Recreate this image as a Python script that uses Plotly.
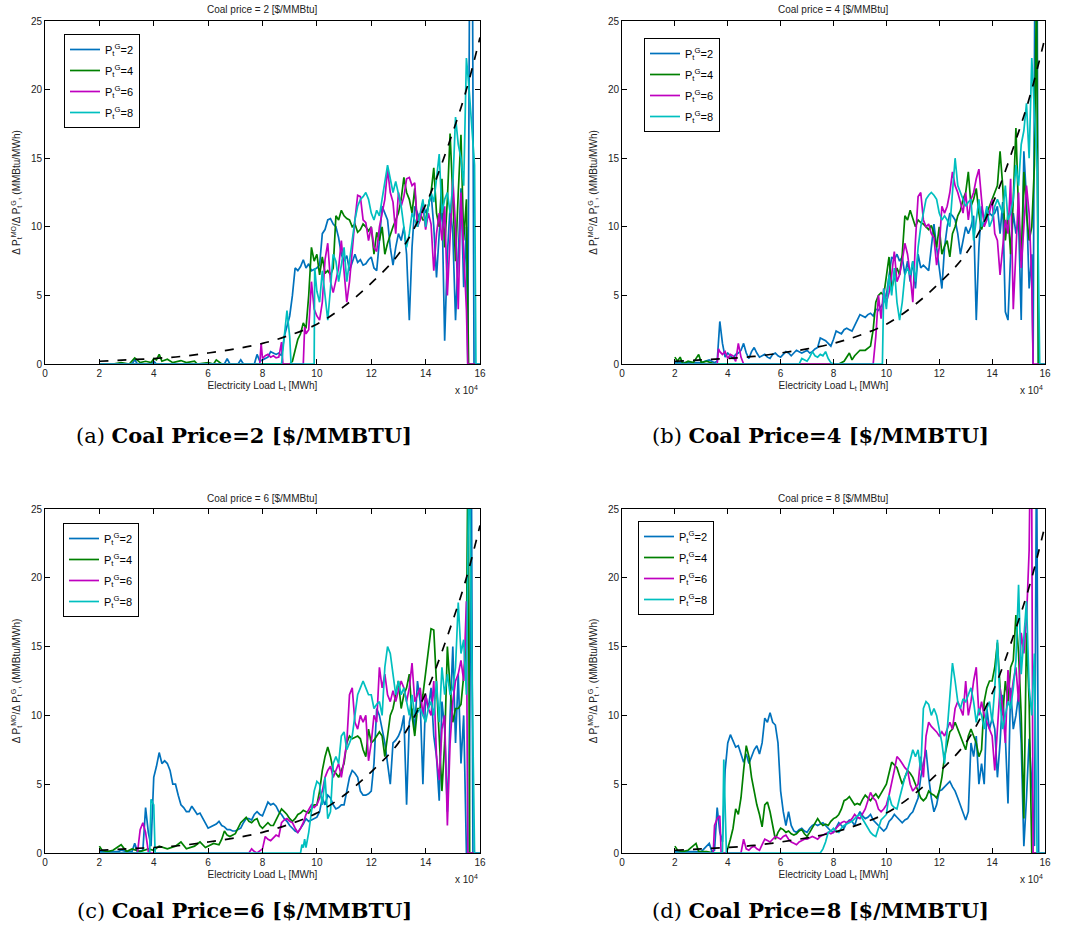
import plotly.graph_objects as go

# ---------------- data (x in units of 10^4 MWh) ----------------
dash_x = [2, 3, 4, 5, 6, 7, 8, 9, 10, 11, 12, 13, 14, 15, 15.5, 16]
dash_y = [0.2, 0.3, 0.4, 0.55, 0.8, 1.1, 1.5, 2.1, 2.9, 4.2, 5.9, 8.0, 11.6, 16.9, 20.0, 23.8]

# Panel (a): coal price = 2
a_p2 = [(2.0,0),(3.2,0),(3.3,0.3),(3.4,0),(3.9,0),(4.0,0.2),(4.1,0),(6.6,0),(6.7,0.4),(6.8,0),(7.1,0),(7.2,0.3),(7.3,0),
        (7.7,0),(7.8,0.7),(7.9,0.2),(8.0,0.3),(8.2,0.5),(8.3,0.9),(8.5,0.7),(8.6,0.8),(8.7,0.6),(8.8,2.0),(9.0,3.5),(9.1,5.0),
        (9.2,7.0),(9.3,6.8),(9.4,7.1),(9.5,7.6),(9.6,7.0),(9.7,7.3),(9.8,6.8),(10.0,7.0),(10.1,7.2),(10.2,9.5),(10.3,9.8),
        (10.4,10.5),(10.5,10.6),(10.6,10.2),(10.7,10.0),(10.8,9.2),(10.9,8.0),(11.0,7.5),(11.1,7.9),(11.2,6.8),(11.3,7.5),
        (11.4,8.0),(11.5,7.4),(11.6,7.6),(11.7,7.2),(11.8,7.3),(11.9,7.6),(12.0,7.8),(12.1,7.0),(12.2,6.8),(12.3,9.0),
        (12.4,11.5),(12.5,11.0),(12.6,10.5),(12.7,8.5),(12.8,7.2),(12.9,8.5),(13.0,9.5),(13.1,9.0),(13.2,10.0),(13.3,8.0),
        (13.4,3.2),(13.5,8.5),(13.6,11.5),(13.7,11.0),(13.8,10.5),(13.9,11.8),(14.0,11.0),(14.1,11.5),(14.2,12.5),(14.3,10.0),
        (14.4,6.3),(14.5,9.5),(14.6,11.8),(14.7,1.7),(14.8,8.0),(14.9,11.5),(15.0,9.5),(15.1,3.2),(15.2,8.0),(15.3,12.8),
        (15.4,5.6),(15.5,10.0),(15.55,0),(15.62,30),(15.72,30),(15.78,0),(16.0,0)]
a_p4 = [(2.0,0),(2.5,0),(2.8,0.1),(3.1,0),(3.3,0.45),(3.5,0.1),(3.7,0.2),(3.9,0.1),(4.0,0.4),(4.1,0.3),(4.2,0.7),(4.3,0.2),
        (4.5,0.35),(4.7,0.1),(5.0,0.25),(5.2,0.1),(5.5,0.2),(5.6,0),(6.0,0.1),(6.2,0),(6.3,0.3),(6.5,0),(9.0,0),(9.1,0.2),
        (9.2,1.0),(9.3,1.8),(9.4,2.2),(9.5,3.0),(9.6,2.6),(9.7,5.0),(9.8,8.5),(9.9,7.5),(10.0,8.0),(10.1,6.5),(10.2,7.8),
        (10.3,6.6),(10.4,6.8),(10.5,6.5),(10.6,7.0),(10.7,10.8),(10.8,10.5),(10.9,11.2),(11.0,10.8),(11.1,10.6),(11.2,10.5),
        (11.3,10.0),(11.4,10.2),(11.5,9.6),(11.6,9.8),(11.7,10.2),(11.8,10.0),(11.9,9.7),(12.0,10.0),(12.1,8.0),(12.2,9.6),
        (12.3,9.0),(12.4,10.0),(12.5,8.0),(12.6,8.8),(12.7,9.5),(12.8,10.0),(12.9,10.5),(13.0,11.0),(13.1,12.0),(13.2,13.6),
        (13.3,12.5),(13.4,12.0),(13.5,11.0),(13.6,12.8),(13.7,10.0),(13.8,11.0),(13.9,10.5),(14.0,10.5),(14.1,11.5),
        (14.2,12.5),(14.3,14.3),(14.4,11.0),(14.5,10.0),(14.6,13.5),(14.7,8.5),(14.8,12.0),(14.9,16.8),(15.0,12.0),
        (15.1,7.5),(15.2,12.5),(15.3,16.7),(15.4,9.0),(15.5,12.0),(15.58,0),(16.0,0)]
a_p6 = [(2.0,0),(7.9,0),(7.95,1.5),(8.0,0.4),(8.1,0.6),(8.2,0.7),(8.3,0.5),(8.4,0.6),(8.5,0.45),(8.6,0.5),(8.7,1.6),
        (8.75,0),(9.5,0),(9.55,2.7),(9.6,2.2),(9.7,2.5),(9.8,6.0),(9.9,4.0),(10.0,3.5),(10.1,3.2),(10.2,4.5),(10.3,7.6),
        (10.4,8.8),(10.5,6.0),(10.6,5.2),(10.7,6.0),(10.8,7.0),(10.9,9.0),(11.0,7.0),(11.1,4.5),(11.2,6.0),(11.3,8.5),
        (11.4,10.5),(11.5,12.3),(11.6,12.2),(11.7,10.5),(11.8,10.3),(11.9,9.0),(12.0,10.0),(12.1,8.5),(12.2,8.2),
        (12.3,10.0),(12.4,11.0),(12.5,12.0),(12.6,14.2),(12.7,12.5),(12.8,11.8),(12.9,9.5),(13.0,12.5),(13.1,11.5),
        (13.2,12.2),(13.3,13.5),(13.4,13.6),(13.5,13.0),(13.6,13.2),(13.7,10.0),(13.8,10.5),(13.9,11.5),(14.0,9.8),
        (14.1,11.0),(14.2,10.2),(14.3,6.8),(14.4,9.5),(14.5,11.0),(14.6,9.0),(14.7,11.5),(14.8,5.0),(14.9,9.5),(15.0,13.5),
        (15.1,10.0),(15.2,4.0),(15.3,12.5),(15.4,8.5),(15.5,4.0),(15.55,0),(16.0,0)]
a_p8 = [(2.0,0),(8.7,0),(8.8,2.0),(8.9,3.9),(9.0,2.0),(9.05,0),(9.9,0),(9.92,7.0),(10.0,5.3),(10.1,4.5),(10.2,6.8),
        (10.3,5.2),(10.4,3.2),(10.5,5.5),(10.6,8.0),(10.7,7.5),(10.8,6.0),(10.9,7.2),(11.0,8.5),(11.1,6.0),(11.2,7.5),
        (11.3,9.0),(11.4,10.5),(11.5,11.5),(11.6,12.0),(11.7,12.2),(11.8,12.5),(11.9,12.0),(12.0,11.0),(12.1,10.5),
        (12.2,11.2),(12.3,10.8),(12.4,12.0),(12.5,13.0),(12.6,14.5),(12.7,13.5),(12.8,12.5),(12.9,13.3),(13.0,12.5),
        (13.1,11.5),(13.2,10.0),(13.3,8.5),(13.4,9.5),(13.5,11.0),(13.6,10.5),(13.7,10.0),(13.8,11.0),(13.9,12.0),
        (14.0,10.0),(14.1,11.5),(14.2,12.5),(14.3,11.8),(14.4,13.5),(14.5,15.3),(14.6,11.0),(14.7,12.0),(14.8,12.5),
        (14.9,11.0),(15.0,13.0),(15.1,18.0),(15.2,16.0),(15.3,15.0),(15.4,13.0),(15.5,22.3),(15.6,20.0),(15.7,17.0),
        (15.8,14.5),(15.85,0),(16.0,0)]

# Panel (b): coal price = 4
b_p2 = [(2.0,0.1),(3.0,0.1),(3.3,0.3),(3.5,0.1),(3.6,0.2),(3.7,3.1),(3.8,1.5),(3.9,0.5),(4.0,0.8),(4.1,0.6),(4.2,0.4),
        (4.3,0.7),(4.4,0.8),(4.5,1.0),(4.6,1.5),(4.7,0.8),(4.8,0.4),(4.9,0.9),(5.0,1.2),(5.1,0.8),(5.2,0.5),(5.3,0.6),
        (5.4,0.7),(5.5,0.5),(5.6,0.4),(5.7,0.7),(5.8,0.8),(5.9,0.6),(6.0,0.5),(6.1,0.7),(6.2,0.9),(6.3,0.8),(6.4,0.6),
        (6.5,0.8),(6.6,1.0),(6.7,0.9),(6.8,0.8),(6.9,0.9),(7.0,1.0),(7.1,0.8),(7.2,0.9),(7.3,1.1),(7.4,1.2),(7.5,1.9),
        (7.6,1.8),(7.7,1.7),(7.8,1.5),(7.9,1.3),(8.0,1.8),(8.1,2.4),(8.2,2.3),(8.3,2.2),(8.4,2.5),(8.5,2.6),(8.6,2.5),
        (8.7,2.4),(8.8,2.8),(8.9,3.2),(9.0,3.6),(9.1,3.5),(9.2,3.4),(9.3,3.6),(9.4,3.7),(9.5,3.5),(9.6,4.0),(9.7,3.9),
        (9.8,4.2),(9.9,4.5),(10.0,5.0),(10.1,6.5),(10.2,7.8),(10.3,7.6),(10.4,8.0),(10.5,7.5),(10.6,7.8),(10.7,6.5),
        (10.8,7.5),(10.9,6.0),(11.0,7.5),(11.1,5.5),(11.2,8.0),(11.3,7.0),(11.4,7.2),(11.5,7.0),(11.6,6.8),(11.7,8.5),
        (11.8,10.2),(11.9,8.5),(12.0,7.0),(12.1,5.5),(12.2,8.5),(12.3,10.0),(12.4,11.0),(12.5,10.8),(12.6,10.5),(12.7,9.5),
        (12.8,8.0),(12.9,9.0),(13.0,10.0),(13.1,9.5),(13.2,10.0),(13.3,10.8),(13.4,3.2),(13.5,8.5),(13.6,11.5),(13.7,10.5),
        (13.8,11.2),(13.9,11.0),(14.0,10.8),(14.1,11.0),(14.2,11.5),(14.3,9.5),(14.4,11.8),(14.5,3.8),(14.6,3.2),
        (14.7,8.0),(14.8,11.0),(14.9,9.5),(15.0,10.5),(15.1,3.2),(15.2,15.5),(15.3,12.0),(15.4,5.5),(15.5,8.0),
        (15.55,0),(15.62,30),(15.7,30),(15.75,0),(16.0,0)]
b_p4 = [(2.0,0.5),(2.1,0.2),(2.2,0.5),(2.3,0),(2.5,0.2),(2.7,0.1),(2.9,0.7),(3.0,0.1),(3.2,0.2),(3.5,0),(8.2,0),(8.4,0.2),
        (8.6,0.8),(8.7,0.3),(8.8,0.6),(9.0,1.0),(9.2,1.0),(9.4,1.3),(9.5,2.5),(9.6,4.5),(9.7,5.0),(9.8,5.2),(9.9,5.0),
        (10.0,6.5),(10.1,7.8),(10.2,5.5),(10.3,6.2),(10.4,7.0),(10.5,6.5),(10.6,8.0),(10.7,10.8),(10.8,10.5),(10.9,11.2),
        (11.0,10.5),(11.1,10.0),(11.2,10.5),(11.3,10.3),(11.4,10.2),(11.5,10.0),(11.6,9.8),(11.7,10.1),(11.8,9.5),
        (11.9,8.5),(12.0,10.0),(12.1,8.0),(12.2,8.6),(12.3,9.0),(12.4,7.8),(12.5,9.5),(12.6,10.0),(12.7,10.8),(12.8,11.2),
        (12.9,12.0),(13.0,12.5),(13.1,14.0),(13.2,11.5),(13.3,12.0),(13.4,12.8),(13.5,11.0),(13.6,9.8),(13.7,10.5),
        (13.8,11.0),(13.9,11.5),(14.0,12.0),(14.1,12.5),(14.2,13.0),(14.3,15.5),(14.4,13.0),(14.5,9.0),(14.6,11.0),
        (14.7,8.0),(14.8,12.0),(14.9,17.2),(15.0,11.0),(15.1,7.5),(15.2,14.0),(15.3,11.0),(15.4,9.0),(15.5,10.0),
        (15.6,14.5),(15.68,28),(15.75,0),(16.0,0)]
b_p6 = [(2.0,0),(3.6,0),(3.65,1.1),(3.7,0.9),(3.8,0.7),(3.9,0.9),(4.0,0.4),(4.1,0.7),(4.2,0.6),(4.3,0.2),(4.4,1.5),
        (4.5,0.5),(4.6,0),(9.5,0),(9.6,2.0),(9.7,5.0),(9.8,3.3),(9.9,5.5),(10.0,4.5),(10.1,5.2),(10.2,6.5),(10.3,8.2),
        (10.4,6.0),(10.5,6.5),(10.6,7.5),(10.7,8.8),(10.8,8.0),(10.9,6.5),(11.0,4.5),(11.1,9.0),(11.2,12.2),(11.3,12.5),
        (11.4,10.5),(11.5,10.0),(11.6,10.2),(11.7,9.5),(11.8,9.2),(11.9,7.2),(12.0,8.5),(12.1,11.5),(12.2,11.0),
        (12.3,11.5),(12.4,12.5),(12.5,14.0),(12.6,13.0),(12.7,12.5),(12.8,11.8),(12.9,11.0),(13.0,12.5),(13.1,10.5),
        (13.2,12.0),(13.3,12.5),(13.4,13.5),(13.5,14.2),(13.6,12.0),(13.7,10.0),(13.8,10.5),(13.9,11.0),(14.0,12.0),
        (14.1,9.5),(14.2,9.0),(14.3,6.5),(14.4,8.5),(14.5,10.5),(14.6,9.5),(14.7,13.5),(14.8,4.0),(14.9,8.0),(15.0,12.5),
        (15.1,7.0),(15.2,10.0),(15.3,13.0),(15.4,11.0),(15.5,6.0),(15.55,0),(16.0,0)]
b_p8 = [(2.0,0),(6.7,0),(6.8,0.4),(6.9,0.3),(7.0,0.2),(7.1,0.5),(7.2,0.9),(7.3,0.6),(7.4,0.5),(7.5,0.7),(7.6,0.6),
        (7.7,0.9),(7.8,0.4),(7.9,0.1),(8.0,0),(9.85,0),(9.9,5.5),(10.0,4.0),(10.1,6.5),(10.2,5.0),(10.3,7.0),(10.4,4.5),
        (10.5,3.2),(10.6,4.5),(10.7,6.5),(10.8,7.0),(10.9,6.5),(11.0,7.5),(11.1,6.0),(11.2,8.5),(11.3,10.0),(11.4,11.0),
        (11.5,12.0),(11.6,12.3),(11.7,12.5),(11.8,12.3),(11.9,12.0),(12.0,11.0),(12.1,10.5),(12.2,10.8),(12.3,10.5),
        (12.4,10.0),(12.5,12.5),(12.6,15.0),(12.7,13.0),(12.8,12.5),(12.9,12.0),(13.0,11.5),(13.1,11.8),(13.2,12.0),
        (13.3,9.0),(13.4,10.5),(13.5,12.0),(13.6,10.0),(13.7,10.5),(13.8,11.5),(13.9,10.0),(14.0,10.5),(14.1,11.5),
        (14.2,12.0),(14.3,11.5),(14.4,11.0),(14.5,13.0),(14.6,10.5),(14.7,11.0),(14.8,12.0),(14.9,14.5),(15.0,13.0),
        (15.1,16.0),(15.2,17.0),(15.3,19.0),(15.4,15.0),(15.5,22.3),(15.6,18.0),(15.7,14.5),(15.8,0),(16.0,0)]

# Panel (c): coal price = 6
c_p2 = [(2.0,0.1),(2.7,0.1),(2.8,0.2),(3.0,0.1),(3.2,0.1),(3.3,0.7),(3.4,0.1),(3.6,0.2),(3.7,3.3),(3.8,1.5),(3.9,0.5),
        (4.0,5.5),(4.1,6.3),(4.2,7.3),(4.3,6.5),(4.4,6.7),(4.5,6.5),(4.6,6.0),(4.7,5.0),(4.8,5.0),(4.9,4.2),(5.0,3.5),
        (5.1,3.3),(5.2,3.0),(5.3,3.0),(5.4,3.4),(5.5,3.1),(5.6,2.8),(5.7,2.9),(5.8,2.5),(5.9,2.2),(6.0,1.8),(6.1,1.9),
        (6.2,2.0),(6.3,2.1),(6.4,2.3),(6.5,2.0),(6.6,1.9),(6.7,1.7),(6.8,1.7),(6.9,1.6),(7.0,1.6),(7.1,1.7),(7.2,1.8),
        (7.3,2.2),(7.4,2.5),(7.5,2.5),(7.6,2.4),(7.7,2.8),(7.8,3.0),(7.9,2.8),(8.0,2.7),(8.1,3.2),(8.2,3.7),(8.3,3.5),
        (8.4,3.6),(8.5,3.4),(8.6,3.0),(8.7,2.8),(8.8,2.5),(8.9,2.3),(9.0,2.0),(9.1,1.8),(9.2,1.6),(9.3,1.5),(9.4,1.8),
        (9.5,2.1),(9.6,2.5),(9.7,2.3),(9.8,2.4),(9.9,2.5),(10.0,2.6),(10.1,3.0),(10.2,4.0),(10.3,3.5),(10.4,4.2),(10.5,4.0),
        (10.6,3.5),(10.7,3.2),(10.8,3.3),(10.9,3.5),(11.0,3.5),(11.1,4.5),(11.2,5.5),(11.3,6.0),(11.4,5.8),(11.5,5.5),
        (11.6,4.5),(11.7,4.2),(11.8,4.2),(11.9,4.3),(12.0,4.5),(12.1,6.5),(12.2,10.5),(12.3,10.0),(12.4,9.0),(12.5,8.0),
        (12.6,6.5),(12.7,5.0),(12.8,8.0),(12.9,8.2),(13.0,8.5),(13.1,9.0),(13.2,10.0),(13.3,3.5),(13.4,9.5),(13.5,10.5),
        (13.6,9.0),(13.7,12.5),(13.8,11.0),(13.9,5.0),(14.0,11.5),(14.1,10.5),(14.2,12.0),(14.3,8.5),(14.4,7.0),(14.5,3.8),
        (14.6,11.0),(14.7,9.0),(14.8,3.0),(14.9,10.0),(15.0,15.0),(15.1,8.0),(15.2,13.0),(15.3,6.5),(15.4,10.0),(15.5,0),
        (15.6,0),(15.68,30),(15.74,0),(16.0,0)]
c_p4 = [(2.0,0.5),(2.1,0.2),(2.3,0.1),(2.5,0.2),(2.8,0.6),(3.0,0.1),(3.2,0.3),(3.5,0.1),(3.8,0.3),(4.0,0.2),(4.2,0.5),
        (4.5,0.3),(4.8,0.5),(5.0,0.8),(5.2,0.3),(5.5,0.5),(5.7,0.8),(5.9,0.4),(6.2,0.7),(6.4,0.6),(6.5,1.0),(6.6,1.6),
        (6.7,1.3),(6.8,1.2),(7.0,1.4),(7.1,1.8),(7.2,2.2),(7.3,2.4),(7.4,2.6),(7.5,2.3),(7.6,2.2),(7.7,2.4),(7.8,2.5),
        (7.9,2.0),(8.0,1.8),(8.1,2.0),(8.2,2.2),(8.3,2.0),(8.4,2.0),(8.5,2.4),(8.6,2.8),(8.7,3.2),(8.8,3.0),(8.9,2.8),
        (9.0,2.5),(9.1,2.3),(9.2,2.5),(9.3,2.8),(9.4,2.9),(9.5,3.1),(9.6,3.0),(9.7,2.9),(9.8,3.2),(9.9,3.5),(10.0,3.5),
        (10.1,4.5),(10.2,6.0),(10.3,7.0),(10.4,7.7),(10.5,7.0),(10.6,6.0),(10.7,5.8),(10.8,5.5),(10.9,6.0),(11.0,6.5),
        (11.1,8.0),(11.2,8.5),(11.3,8.3),(11.4,8.4),(11.5,8.5),(11.6,8.3),(11.7,7.5),(11.8,7.0),(11.9,9.0),(12.0,8.0),
        (12.1,8.2),(12.2,8.5),(12.3,8.8),(12.4,8.5),(12.5,7.0),(12.6,8.5),(12.7,10.0),(12.8,10.5),(12.9,11.5),(13.0,12.5),
        (13.1,10.5),(13.2,11.5),(13.3,12.0),(13.4,13.0),(13.5,10.0),(13.6,8.5),(13.7,10.5),(13.8,10.5),(13.9,11.5),
        (14.0,13.0),(14.1,14.5),(14.2,16.3),(14.3,16.2),(14.4,12.5),(14.5,8.0),(14.6,4.5),(14.7,8.0),(14.8,15.0),
        (14.9,12.0),(15.0,9.5),(15.1,10.5),(15.2,10.5),(15.3,10.8),(15.4,13.0),(15.5,15.0),(15.56,30),(15.62,0),(16.0,0)]
c_p6 = [(2.0,0),(3.4,0),(3.5,1.7),(3.6,2.2),(3.7,1.5),(3.8,0.1),(3.9,0),(7.5,0),(7.6,0.3),(7.7,0.1),(7.8,0),(8.0,0.3),
        (8.1,1.2),(8.2,1.0),(8.3,0.9),(8.4,1.1),(8.5,1.3),(8.6,1.2),(8.7,2.2),(8.8,2.4),(8.9,2.5),(9.0,2.3),(9.1,2.2),
        (9.2,1.8),(9.3,1.5),(9.4,1.8),(9.5,2.2),(9.6,2.8),(9.7,3.2),(9.8,3.5),(9.9,3.3),(10.0,3.5),(10.1,4.0),(10.2,4.5),
        (10.3,5.5),(10.4,6.0),(10.5,6.3),(10.6,5.5),(10.7,6.0),(10.8,6.5),(10.9,5.5),(11.0,6.8),(11.1,8.0),(11.2,11.5),
        (11.3,12.0),(11.4,9.5),(11.5,9.0),(11.6,10.0),(11.7,9.5),(11.8,10.0),(11.9,6.7),(12.0,8.0),(12.1,10.0),(12.2,9.5),
        (12.3,13.5),(12.4,12.0),(12.5,13.0),(12.6,11.5),(12.7,11.0),(12.8,11.8),(12.9,11.0),(13.0,11.8),(13.1,12.5),
        (13.2,12.0),(13.3,11.0),(13.4,12.0),(13.5,13.8),(13.6,11.0),(13.7,11.5),(13.8,12.0),(13.9,10.0),(14.0,11.5),
        (14.1,10.5),(14.2,10.0),(14.3,12.5),(14.4,7.0),(14.5,5.3),(14.6,9.0),(14.7,10.0),(14.8,2.0),(14.9,8.0),(15.0,11.0),
        (15.1,12.5),(15.2,13.0),(15.3,14.0),(15.4,12.5),(15.5,18.3),(15.55,0),(16.0,0)]
c_p8 = [(2.0,0),(3.85,0),(3.9,3.9),(4.0,3.5),(4.05,0),(9.4,0),(9.45,0.6),(9.5,0.4),(9.55,1.0),(9.6,0.4),(9.7,1.5),
        (9.8,3.0),(9.9,4.5),(10.0,5.2),(10.1,5.0),(10.2,3.5),(10.3,5.5),(10.4,2.5),(10.5,3.0),(10.6,6.5),(10.7,7.0),
        (10.8,6.5),(10.9,8.5),(11.0,8.8),(11.1,7.5),(11.2,8.0),(11.3,8.5),(11.4,10.0),(11.5,11.5),(11.6,12.0),(11.7,12.5),
        (11.8,12.0),(11.9,11.5),(12.0,11.5),(12.1,10.5),(12.2,10.8),(12.3,11.0),(12.4,10.0),(12.5,13.5),(12.6,15.0),
        (12.7,14.5),(12.8,13.0),(12.9,11.5),(13.0,12.5),(13.1,11.5),(13.2,12.0),(13.3,11.0),(13.4,10.0),(13.5,11.5),
        (13.6,10.0),(13.7,10.2),(13.8,10.5),(13.9,10.0),(14.0,9.5),(14.1,10.5),(14.2,11.0),(14.3,10.0),(14.4,12.5),
        (14.5,9.5),(14.6,13.5),(14.7,11.5),(14.8,13.0),(14.9,11.5),(15.0,12.0),(15.1,13.5),(15.2,18.2),(15.3,14.5),
        (15.4,15.5),(15.5,11.5),(15.6,30),(15.7,14.0),(15.8,0),(16.0,0)]

# Panel (d): coal price = 8
d_p2 = [(2.0,0.1),(3.0,0.1),(3.3,0.7),(3.4,0.1),(3.5,0.2),(3.6,3.3),(3.7,1.5),(3.8,0.8),(3.9,6.0),(4.0,8.0),(4.1,8.6),
        (4.2,8.2),(4.3,7.7),(4.4,7.8),(4.5,7.2),(4.6,6.6),(4.7,7.2),(4.8,6.5),(4.9,7.0),(5.0,7.5),(5.1,7.8),(5.2,7.2),
        (5.3,8.0),(5.4,9.8),(5.5,9.5),(5.6,10.2),(5.7,9.5),(5.8,9.3),(5.9,8.0),(6.0,4.5),(6.1,3.0),(6.2,2.0),(6.3,3.0),
        (6.4,2.0),(6.5,1.6),(6.6,1.5),(6.7,1.7),(6.8,1.8),(6.9,1.6),(7.0,1.5),(7.1,1.8),(7.2,2.0),(7.3,2.1),(7.4,2.0),
        (7.5,2.1),(7.6,2.2),(7.7,2.0),(7.8,1.8),(7.9,1.6),(8.0,1.5),(8.1,1.9),(8.2,2.2),(8.3,2.0),(8.4,1.8),(8.5,2.2),
        (8.6,2.4),(8.7,2.3),(8.8,2.0),(8.9,2.6),(9.0,3.0),(9.1,2.7),(9.2,2.5),(9.3,2.6),(9.4,2.8),(9.5,2.4),(9.6,2.2),
        (9.7,2.0),(9.8,1.8),(9.9,1.6),(10.0,1.8),(10.1,2.3),(10.2,2.5),(10.3,2.8),(10.4,2.6),(10.5,2.4),(10.6,2.2),
        (10.7,2.4),(10.8,2.5),(10.9,2.8),(11.0,3.0),(11.1,3.5),(11.2,4.0),(11.3,5.5),(11.4,6.5),(11.5,7.5),(11.6,5.5),
        (11.7,4.0),(11.8,3.0),(11.9,3.5),(12.0,4.5),(12.1,4.6),(12.2,4.8),(12.3,5.0),(12.4,5.2),(12.5,4.8),(12.6,4.5),
        (12.7,4.0),(12.8,3.5),(12.9,3.0),(13.0,2.4),(13.1,3.0),(13.2,8.0),(13.3,7.0),(13.4,8.5),(13.5,5.0),(13.6,6.5),
        (13.7,5.0),(13.8,10.5),(13.9,9.0),(14.0,9.8),(14.1,9.0),(14.2,5.5),(14.3,8.0),(14.4,11.5),(14.5,8.5),(14.6,3.6),
        (14.7,12.0),(14.8,9.0),(14.9,10.0),(15.0,11.5),(15.1,8.0),(15.2,0.5),(15.3,4.0),(15.4,8.3),(15.5,5.0),(15.6,0.5),
        (15.68,30),(15.76,0),(16.0,0)]
d_p4 = [(2.0,0.5),(2.1,0.2),(2.3,0.1),(2.5,0.2),(2.8,0.7),(2.9,0.1),(3.2,0.1),(3.5,0),(3.95,0),(4.0,0.3),(4.1,1.0),
        (4.2,1.8),(4.3,3.2),(4.4,2.8),(4.5,4.0),(4.6,6.0),(4.7,7.8),(4.8,7.0),(4.9,5.5),(5.0,4.5),(5.1,3.5),(5.2,2.8),
        (5.3,1.9),(5.4,3.5),(5.5,3.7),(5.6,3.0),(5.7,2.0),(5.8,1.0),(5.9,1.5),(6.0,1.8),(6.1,1.7),(6.2,1.5),(6.3,1.6),
        (6.4,1.4),(6.5,1.3),(6.6,1.4),(6.7,1.6),(6.8,1.7),(6.9,1.4),(7.0,1.2),(7.1,1.5),(7.2,1.8),(7.3,2.2),(7.4,2.5),
        (7.5,2.2),(7.6,2.0),(7.7,2.1),(7.8,2.0),(7.9,2.3),(8.0,2.5),(8.1,2.6),(8.2,2.8),(8.3,3.2),(8.4,3.8),(8.5,3.9),
        (8.6,4.1),(8.7,3.8),(8.8,3.5),(8.9,3.6),(9.0,3.5),(9.1,3.9),(9.2,4.2),(9.3,4.0),(9.4,3.8),(9.5,4.1),(9.6,4.3),
        (9.7,4.0),(9.8,4.3),(9.9,4.6),(10.0,5.0),(10.1,5.8),(10.2,6.6),(10.3,6.4),(10.4,6.2),(10.5,5.6),(10.6,5.0),
        (10.7,5.5),(10.8,6.0),(10.9,5.8),(11.0,5.5),(11.1,5.0),(11.2,4.5),(11.3,4.0),(11.4,3.8),(11.5,4.0),(11.6,4.5),
        (11.7,4.3),(11.8,4.2),(11.9,4.0),(12.0,4.5),(12.1,5.5),(12.2,7.0),(12.3,8.0),(12.4,8.8),(12.5,9.0),(12.6,9.5),
        (12.7,9.0),(12.8,8.5),(12.9,8.0),(13.0,7.5),(13.1,8.5),(13.2,9.0),(13.3,8.5),(13.4,8.0),(13.5,7.0),(13.6,7.5),
        (13.7,11.0),(13.8,12.0),(13.9,12.5),(14.0,12.5),(14.1,13.5),(14.2,15.3),(14.3,12.0),(14.4,10.0),(14.5,12.5),
        (14.6,11.0),(14.7,13.5),(14.8,14.0),(14.9,17.3),(15.0,14.5),(15.1,10.0),(15.2,2.5),(15.3,16.0),(15.4,11.0),
        (15.5,0),(16.0,0)]
d_p6 = [(2.0,0),(3.45,0),(3.5,2.0),(3.6,2.5),(3.7,2.7),(3.75,0),(4.5,0),(4.6,1.0),(4.7,0.3),(4.8,0.2),(4.9,0.4),(5.0,0.5),
        (5.1,0.3),(5.2,0.2),(5.3,0.6),(5.4,1.0),(5.5,0.9),(5.6,0.8),(5.7,1.0),(5.8,1.2),(5.9,1.1),(6.0,1.0),(6.1,1.2),
        (6.2,1.3),(6.3,1.0),(6.4,0.8),(6.5,0.7),(6.6,0.6),(6.7,0.8),(6.8,0.9),(6.9,1.0),(7.0,1.0),(7.1,1.1),(7.2,1.2),
        (7.3,1.1),(7.4,1.0),(7.5,1.2),(7.6,1.3),(7.7,1.4),(7.8,1.5),(7.9,1.4),(8.0,1.5),(8.1,1.8),(8.2,2.0),(8.3,2.2),
        (8.4,2.3),(8.5,2.2),(8.6,2.3),(8.7,2.5),(8.8,2.8),(8.9,2.6),(9.0,2.5),(9.1,2.8),(9.2,3.2),(9.3,3.8),(9.4,4.4),
        (9.5,4.0),(9.6,3.8),(9.7,3.2),(9.8,3.0),(9.9,3.2),(10.0,3.5),(10.1,4.2),(10.2,5.0),(10.3,6.0),(10.4,7.0),(10.5,6.8),
        (10.6,6.5),(10.7,6.2),(10.8,6.0),(10.9,5.0),(11.0,4.5),(11.1,4.8),(11.2,5.0),(11.3,7.0),(11.4,5.5),(11.5,8.5),
        (11.6,9.5),(11.7,9.2),(11.8,9.0),(11.9,8.8),(12.0,8.5),(12.1,8.8),(12.2,8.5),(12.3,9.0),(12.4,9.5),(12.5,9.0),
        (12.6,10.5),(12.7,11.0),(12.8,10.5),(12.9,10.0),(13.0,12.5),(13.1,10.0),(13.2,11.0),(13.3,12.5),(13.4,13.5),
        (13.5,10.0),(13.6,11.0),(13.7,10.0),(13.8,9.5),(13.9,9.0),(14.0,8.5),(14.1,6.0),(14.2,9.0),(14.3,12.0),(14.4,10.5),
        (14.5,8.0),(14.6,13.3),(14.7,11.0),(14.8,12.5),(14.9,13.5),(15.0,11.0),(15.1,16.0),(15.2,14.5),(15.3,17.0),
        (15.4,22.0),(15.45,30),(15.5,25),(15.55,0),(16.0,0)]
d_p8 = [(2.0,0),(3.8,0),(3.85,6.8),(3.9,3.0),(3.95,0),(7.5,0),(7.6,0.3),(7.7,0.8),(7.8,1.5),(7.9,1.6),(8.0,1.8),(8.1,1.6),
        (8.2,1.5),(8.3,1.8),(8.4,2.0),(8.5,2.1),(8.6,2.2),(8.7,2.3),(8.8,2.5),(8.9,2.7),(9.0,2.8),(9.1,2.5),(9.2,2.2),
        (9.3,1.8),(9.4,1.5),(9.5,1.3),(9.6,1.2),(9.7,1.8),(9.8,2.4),(9.9,2.6),(10.0,2.8),(10.1,4.2),(10.2,3.5),(10.3,3.3),
        (10.4,3.2),(10.5,4.0),(10.6,4.8),(10.7,5.5),(10.8,6.0),(10.9,6.8),(11.0,7.5),(11.1,7.0),(11.2,7.5),(11.3,6.0),
        (11.4,10.5),(11.5,11.0),(11.6,10.8),(11.7,10.0),(11.8,10.5),(11.9,10.0),(12.0,9.0),(12.1,8.0),(12.2,6.5),
        (12.3,9.0),(12.4,12.0),(12.5,13.8),(12.6,12.5),(12.7,11.0),(12.8,10.5),(12.9,11.2),(13.0,11.0),(13.1,11.5),
        (13.2,12.0),(13.3,11.0),(13.4,9.5),(13.5,10.5),(13.6,10.0),(13.7,9.0),(13.8,10.5),(13.9,11.0),(14.0,9.5),
        (14.1,12.0),(14.2,15.5),(14.3,11.0),(14.4,9.0),(14.5,10.0),(14.6,11.0),(14.7,10.5),(14.8,12.0),(14.9,14.0),
        (15.0,19.5),(15.1,13.0),(15.2,15.5),(15.3,18.3),(15.4,12.0),(15.5,10.0),(15.6,14.5),(15.7,0),(16.0,0)]

coal_prices = [2, 4, 6, 8]
gas_prices = [2, 4, 6, 8]
panel_letters = ["a", "b", "c", "d"]
panel_series = [[a_p2, a_p4, a_p6, a_p8], [b_p2, b_p4, b_p6, b_p8],
                [c_p2, c_p4, c_p6, c_p8], [d_p2, d_p4, d_p6, d_p8]]

# ---------------- styling ----------------
colors = ["#0072BD", "#008000", "#BF00BF", "#00BFBF"]
W, H = 1067, 939
# plot-area pixel boxes: (left, right, top, bottom)
boxes = [(45, 480, 21, 364), (622, 1045, 21, 364), (45, 480, 509, 853), (622, 1045, 509, 853)]
legend_pos = [(64, 34), (644, 38), (63, 523), (638, 521)]
caption_xy = [(244, 435), (820, 435), (244, 910), (820, 910)]
sans = "Liberation Sans, Arial, sans-serif"

fig = go.Figure()
layout = dict(width=W, height=H, margin=dict(l=0, r=0, t=0, b=0, autoexpand=False),
              paper_bgcolor="white", plot_bgcolor="white", showlegend=True)
annotations = []

for i in range(4):
    sfx = "" if i == 0 else str(i + 1)
    xa, ya = "x" + sfx, "y" + sfx
    leg = "legend" + sfx
    L, R, T, B = boxes[i]
    for j, ser in enumerate(panel_series[i]):
        xs = [p[0] for p in ser]
        ys = [p[1] for p in ser]
        fig.add_trace(go.Scatter(x=xs, y=ys, mode="lines", xaxis=xa, yaxis=ya, legend=leg,
                                 legendgroup=f"{i}-{j}",
                                 name=f"P<sub>t</sub><sup>G</sup>={gas_prices[j]}",
                                 line=dict(color=colors[j], width=1.7)))
    fig.add_trace(go.Scatter(x=dash_x, y=dash_y, mode="lines", xaxis=xa, yaxis=ya, showlegend=False,
                             line=dict(color="black", width=1.7, dash="dash"), line_shape="spline"))
    axcommon = dict(showline=True, linecolor="black", linewidth=1, mirror="ticks", ticks="inside",
                    ticklen=5, tickcolor="black", showgrid=False, zeroline=False, automargin=False,
                    tickfont=dict(family=sans, size=10, color="#222"))
    layout["xaxis" + sfx] = dict(axcommon, domain=[L / W, R / W], range=[0, 16], dtick=2, anchor=ya,
                                 title=dict(text="Electricity Load L<sub>t</sub> [MWh]",
                                            font=dict(family=sans, size=10, color="#222"), standoff=3))
    layout["yaxis" + sfx] = dict(axcommon, domain=[1 - B / H, 1 - T / H], range=[0, 25], dtick=5, anchor=xa,
                                 title=dict(text="Δ P<sub>t</sub><sup>MO</sup>/Δ P<sub>t</sub><sup>G</sup>, (MMBtu/MWh)",
                                            font=dict(family=sans, size=10, color="#222"), standoff=8))
    lx, ly = legend_pos[i]
    layout[leg] = dict(x=lx / W, y=1 - ly / H, xanchor="left", yanchor="top", bgcolor="white",
                       bordercolor="black", borderwidth=1, tracegroupgap=2, itemwidth=30,
                       font=dict(family=sans, size=11, color="black"))
    # subplot title
    annotations.append(dict(text=f"Coal price = {coal_prices[i]} [$/MMBtu]", xref="paper", yref="paper",
                            x=(L + R) / 2 / W, y=1 - (T - 11) / H, xanchor="center", yanchor="middle",
                            showarrow=False, font=dict(family=sans, size=10, color="#222")))
    # x 10^4 multiplier
    annotations.append(dict(text="x 10<sup>4</sup>", xref="paper", yref="paper", x=R / W, y=1 - (B + 26) / H,
                            xanchor="right", yanchor="middle", showarrow=False,
                            font=dict(family=sans, size=10, color="#222")))
    # caption
    cx, cy = caption_xy[i]
    annotations.append(dict(text=f"({panel_letters[i]}) <b>Coal Price={coal_prices[i]} [$/MMBTU]</b>",
                            xref="paper", yref="paper", x=cx / W, y=1 - cy / H,
                            xanchor="center", yanchor="middle", showarrow=False,
                            font=dict(family="DejaVu Serif, Liberation Serif, serif", size=21, color="black")))

layout["annotations"] = annotations
fig.update_layout(**layout)
fig.write_html("out.html", config={"displayModeBar": False},
               post_script="document.body.style.margin='0';document.body.style.overflow='hidden';")
